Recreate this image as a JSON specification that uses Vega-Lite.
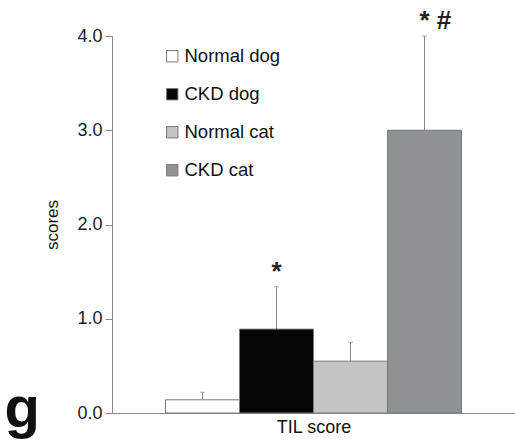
{
  "$schema": "https://vega.github.io/schema/vega-lite/v6.json",
  "width": 403,
  "height": 377,
  "autosize": {"type": "none"},
  "padding": {"left": 112, "top": 36, "right": 0, "bottom": 30},
  "background": "white",
  "config": {
    "font": "Liberation Sans",
    "view": {"stroke": null}
  },
  "title": {
    "text": "g",
    "orient": "left",
    "anchor": "start",
    "angle": 0,
    "fontSize": 58,
    "fontWeight": "bold",
    "color": "#111",
    "offset": 4,
    "dy": -9,
    "baseline": "alphabetic"
  },
  "data": {
    "values": [
      {"group": "Normal dog", "score": 0.14, "upper": 0.22, "sig": ""},
      {"group": "CKD dog", "score": 0.89, "upper": 1.34, "sig": "*"},
      {"group": "Normal cat", "score": 0.55, "upper": 0.75, "sig": ""},
      {"group": "CKD cat", "score": 3.0, "upper": 4.0, "sig": "* #"}
    ]
  },
  "encoding": {
    "x": {
      "field": "group",
      "type": "nominal",
      "sort": ["Normal dog", "CKD dog", "Normal cat", "CKD cat"],
      "scale": {"paddingInner": 0, "paddingOuter": 0.723},
      "axis": {
        "title": "TIL score",
        "labels": false,
        "ticks": false,
        "domainColor": "#8a8a8a",
        "titleFontSize": 18,
        "titleFontWeight": "normal",
        "titleColor": "#111",
        "titlePadding": 5
      }
    }
  },
  "layer": [
    {
      "mark": {"type": "rule", "color": "#8a8a8a", "strokeWidth": 1},
      "encoding": {
        "y": {"field": "score", "type": "quantitative"},
        "y2": {"field": "upper"}
      }
    },
    {
      "mark": {"type": "tick", "color": "#8a8a8a", "size": 5, "thickness": 1, "orient": "horizontal"},
      "encoding": {
        "y": {"field": "upper", "type": "quantitative"}
      }
    },
    {
      "mark": {"type": "bar", "stroke": "#7a7a7a", "strokeWidth": 1},
      "encoding": {
        "y": {
          "field": "score",
          "type": "quantitative",
          "scale": {"domain": [0, 4], "nice": false},
          "axis": {
            "title": "scores",
            "values": [0, 1, 2, 3, 4],
            "format": ".1f",
            "grid": false,
            "domainColor": "#8a8a8a",
            "tickColor": "#8a8a8a",
            "tickSize": 7,
            "labelFontSize": 18,
            "labelColor": "#222",
            "labelPadding": 3,
            "titleFontSize": 17,
            "titleFontWeight": "normal",
            "titleColor": "#111",
            "titlePadding": 15
          }
        },
        "color": {
          "field": "group",
          "type": "nominal",
          "sort": ["Normal dog", "CKD dog", "Normal cat", "CKD cat"],
          "scale": {
            "domain": ["Normal dog", "CKD dog", "Normal cat", "CKD cat"],
            "range": ["#ffffff", "#050505", "#c4c4c4", "#8f9293"]
          },
          "legend": {
            "title": null,
            "orient": "none",
            "legendX": 51,
            "legendY": 11,
            "symbolType": "square",
            "symbolSize": 130,
            "symbolStrokeColor": "#7a7a7a",
            "symbolStrokeWidth": 1,
            "labelFontSize": 18.5,
            "labelColor": "#111",
            "rowPadding": 19,
            "labelOffset": 3
          }
        }
      }
    },
    {
      "mark": {"type": "text", "align": "left", "baseline": "bottom", "dx": -5, "dy": -2, "fontSize": 26, "fontWeight": "bold", "color": "#222"},
      "encoding": {
        "y": {"field": "upper", "type": "quantitative"},
        "text": {"field": "sig"}
      }
    }
  ]
}
